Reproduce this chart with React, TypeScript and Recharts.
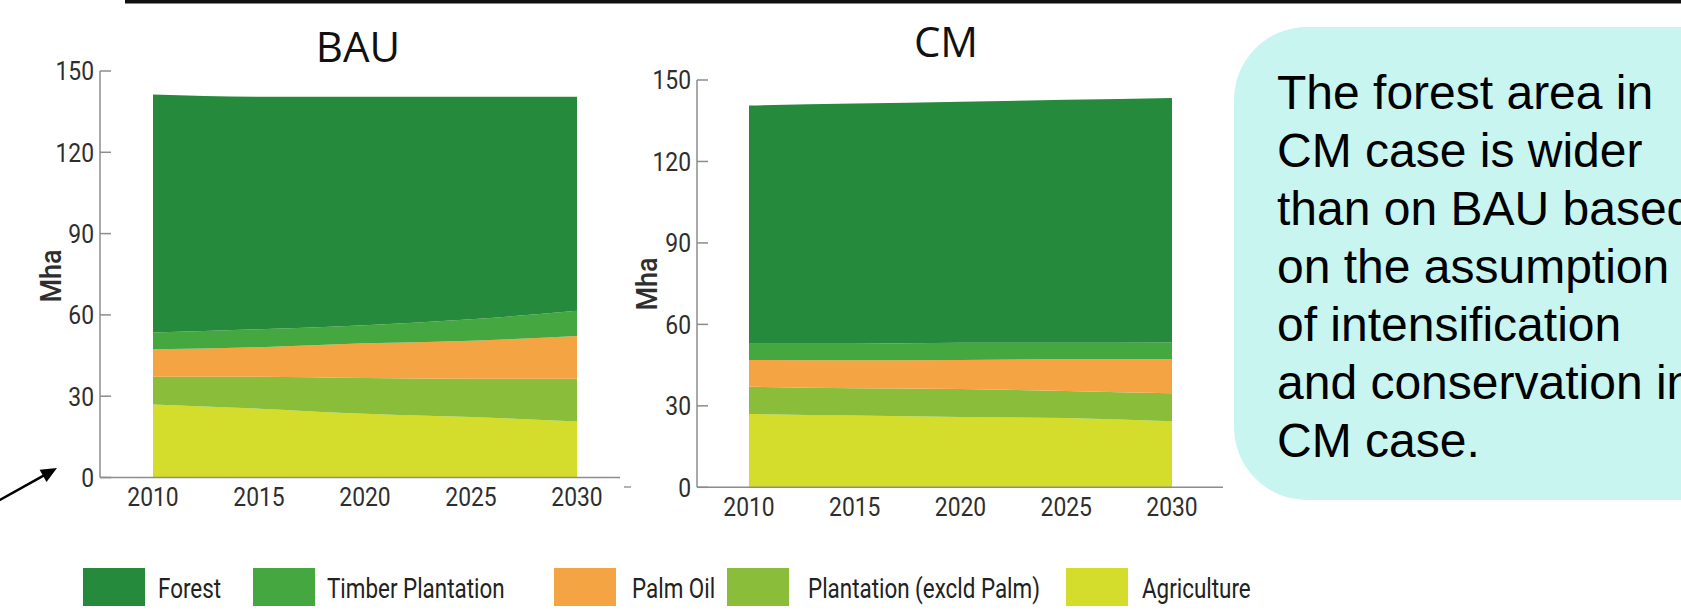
import React from "react";
import { AreaChart, Area, XAxis, YAxis } from "recharts";

// Land-use area (Mha) by scenario, 2010–2030
const years = [2010, 2015, 2020, 2025, 2030];
const yTicks = [0, 30, 60, 90, 120, 150];

const bauAgriculture = [26.9, 25.4, 23.5, 22.3, 20.7];
const bauPlantation = [10.3, 11.8, 13.2, 14.1, 15.7];
const bauPalmOil = [10.1, 10.9, 12.8, 14.1, 15.8];
const bauTimber = [6.2, 6.6, 6.7, 7.9, 9.3];
const bauForest = [87.8, 85.8, 84.3, 82.1, 79.0];

const cmAgriculture = [27.0, 26.4, 25.9, 25.5, 24.3];
const cmPlantation = [10.0, 10.1, 10.3, 10.0, 10.3];
const cmPalmOil = [9.9, 10.3, 10.7, 11.7, 12.6];
const cmTimber = [6.0, 6.1, 6.3, 6.0, 6.1];
const cmForest = [87.7, 88.4, 88.8, 89.5, 90.1];

// stacking order: bottom first
const seriesKeys = ["agriculture", "plantation", "palmOil", "timber", "forest"];
const seriesColors = ["#D4DC2C", "#89BD3A", "#F5A443", "#45A73F", "#268A3C"];

// legend order
const legendKeys = ["forest", "timber", "palmOil", "plantation", "agriculture"];
const legendNames = ["Forest", "Timber Plantation", "Palm Oil", "Plantation (excld Palm)", "Agriculture"];

const noteLines = [
  "The forest area in",
  "CM case is wider",
  "than on BAU based",
  "on the assumption",
  "of intensification",
  "and conservation in",
  "CM case.",
];

const buildRows = (
  agriculture: number[],
  plantation: number[],
  palmOil: number[],
  timber: number[],
  forest: number[]
) =>
  years.map((year, i) => ({
    year,
    agriculture: agriculture[i],
    plantation: plantation[i],
    palmOil: palmOil[i],
    timber: timber[i],
    forest: forest[i],
  }));

const bauRows = buildRows(bauAgriculture, bauPlantation, bauPalmOil, bauTimber, bauForest);
const cmRows = buildRows(cmAgriculture, cmPlantation, cmPalmOil, cmTimber, cmForest);

const colorOf = (key: string) => seriesColors[seriesKeys.indexOf(key)];

const LABEL_FONT = "Roboto, 'DejaVu Sans', sans-serif";
const AXIS_GREY = "#8c8c8c";
const LABEL_INK = "#2e2e2e";
// condensed look for axis and legend labels
const NARROW_X = 0.88;

// y tick: condensed label on the left, short tick pointing into the plot
const YTick = (props: any) => {
  const { x, y, payload } = props;
  const axisX = x + 6;
  return (
    <g>
      <line x1={axisX} x2={axisX + 11} y1={y} y2={y} stroke={AXIS_GREY} strokeWidth={1.5} />
      <text
        transform={`translate(${x},${y}) scale(${NARROW_X},1)`}
        dy="0.36em"
        textAnchor="end"
        fontFamily={LABEL_FONT}
        fontSize={26}
        fill={LABEL_INK}
      >
        {payload.value}
      </text>
    </g>
  );
};

// x tick: condensed year label hanging below the axis
const XTick = (props: any) => {
  const { x, y, payload } = props;
  return (
    <text
      transform={`translate(${x},${y}) scale(${NARROW_X},1)`}
      dy="0.72em"
      textAnchor="middle"
      fontFamily={LABEL_FONT}
      fontSize={26}
      fill={LABEL_INK}
    >
      {payload.value}
    </text>
  );
};

type PanelProps = {
  rows: any[];
  left: number;
  margin: { top: number; right: number; bottom: number; left: number };
  padding: { left: number; right: number };
};

const Panel = ({ rows, left, margin, padding }: PanelProps) => (
  <div style={{ position: "absolute", left, top: 0 }}>
    <AreaChart width={660} height={540} data={rows} margin={margin}>
      <XAxis
        dataKey="year"
        type="number"
        domain={[2010, 2030]}
        ticks={years}
        interval={0}
        padding={padding}
        height={1}
        tickLine={false}
        tickSize={0}
        tickMargin={10}
        axisLine={{ stroke: AXIS_GREY, strokeWidth: 1.5 }}
        tick={<XTick />}
      />
      <YAxis
        type="number"
        domain={[0, 150]}
        ticks={yTicks}
        interval={0}
        width={1}
        tickLine={false}
        tickSize={0}
        tickMargin={6}
        axisLine={{ stroke: AXIS_GREY, strokeWidth: 1.5 }}
        tick={<YTick />}
      />
      {seriesKeys.map((key) => (
        <Area
          key={key}
          dataKey={key}
          stackId="landuse"
          type="monotone"
          stroke="none"
          fill={colorOf(key)}
          fillOpacity={1}
          dot={false}
          activeDot={false}
          isAnimationActive={false}
        />
      ))}
    </AreaChart>
  </div>
);

const legendSwatchX = [83, 253, 554, 727, 1066];
const legendLabelX = [158, 327, 632, 808, 1142];

export default function App() {
  return (
    <div
      style={{
        position: "absolute",
        left: 0,
        top: 0,
        width: 1681,
        height: 612,
        overflow: "hidden",
        background: "#ffffff",
      }}
    >
      {/* note box */}
      <div
        style={{
          position: "absolute",
          left: 1234,
          top: 27,
          width: 600,
          height: 473,
          borderRadius: 73,
          background: "#C9F5F0",
        }}
      />

      <Panel
        rows={bauRows}
        left={0}
        margin={{ top: 71, right: 40, bottom: 61.5, left: 99 }}
        padding={{ left: 53, right: 43 }}
      />
      <Panel
        rows={cmRows}
        left={600}
        margin={{ top: 80, right: 37, bottom: 51.7, left: 96 }}
        padding={{ left: 52, right: 51 }}
      />

      <svg
        width={1681}
        height={612}
        style={{ position: "absolute", left: 0, top: 0, pointerEvents: "none" }}
      >
        {/* header rule */}
        <rect x={125} y={0} width={1556} height={3.5} fill="#111" />

        {/* panel titles */}
        <text x={358} y={62} textAnchor="middle" fontFamily="'Open Sans', sans-serif" fontSize={42} fill="#111">
          BAU
        </text>
        <text x={946} y={57} textAnchor="middle" fontFamily="'Open Sans', sans-serif" fontSize={42} fill="#111">
          CM
        </text>

        {/* axis titles */}
        <text
          transform="translate(50,276) rotate(-90) scale(0.9,1)"
          textAnchor="middle"
          dy="0.36em"
          fontFamily={LABEL_FONT}
          fontWeight={500}
          fontSize={30}
          fill={LABEL_INK}
        >
          Mha
        </text>
        <text
          transform="translate(646,284) rotate(-90) scale(0.9,1)"
          textAnchor="middle"
          dy="0.36em"
          fontFamily={LABEL_FONT}
          fontWeight={500}
          fontSize={30}
          fill={LABEL_INK}
        >
          Mha
        </text>

        {/* stray dash after the BAU axis */}
        <line x1={624} x2={631} y1={487} y2={487} stroke="#999" strokeWidth={1.5} />

        {/* pointer arrow */}
        <line x1={-2} y1={501} x2={44} y2={475.3} stroke="#000" strokeWidth={2.5} />
        <polygon points="57,468 46.5,481.9 39.6,469.7" fill="#000" />

        {/* note text */}
        {noteLines.map((line, i) => (
          <text
            key={i}
            x={1277}
            y={109 + i * 58}
            fontFamily="'Liberation Sans', Arial, sans-serif"
            fontSize={48}
            fill="#000"
          >
            {line}
          </text>
        ))}

        {/* legend */}
        {legendKeys.map((key, i) => (
          <g key={key}>
            <rect x={legendSwatchX[i]} y={568} width={62} height={38} fill={colorOf(key)} />
            <text
              transform={`translate(${legendLabelX[i]},598) scale(0.83,1)`}
              fontFamily={LABEL_FONT}
              fontSize={27}
              fill="#222"
            >
              {legendNames[i]}
            </text>
          </g>
        ))}
      </svg>
    </div>
  );
}
